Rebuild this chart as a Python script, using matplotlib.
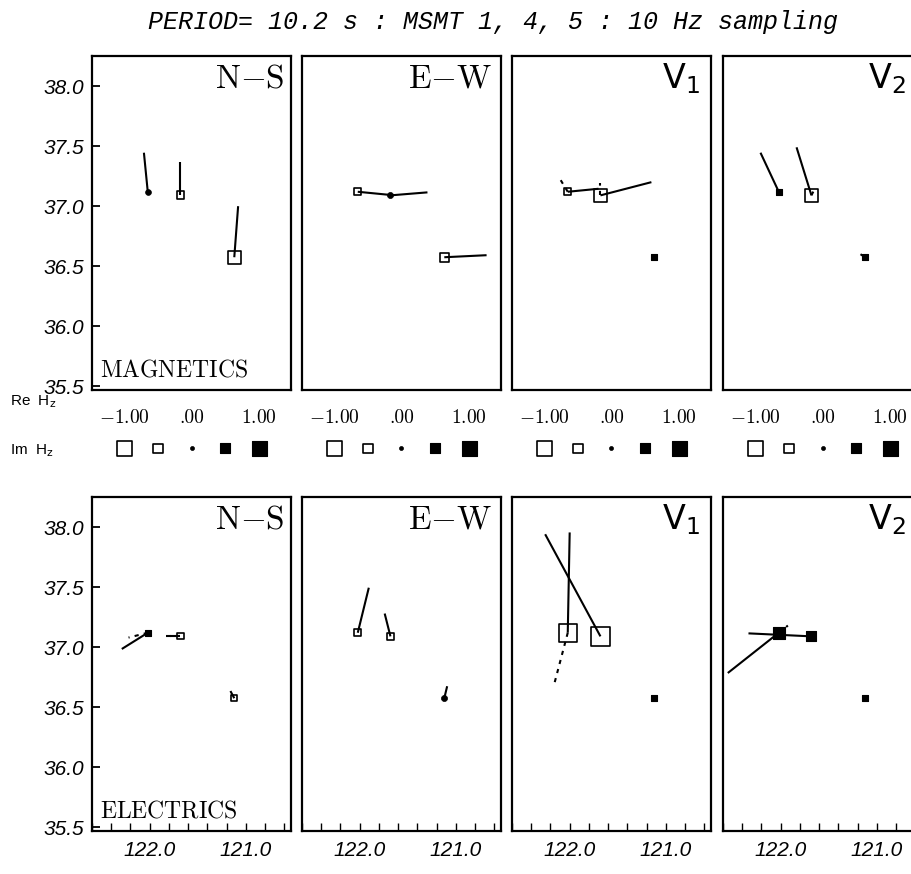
import numpy as np
import matplotlib.pyplot as plt
import matplotlib as mpl
from matplotlib.ticker import MultipleLocator, FixedLocator

W, H = 912, 874
fig = plt.figure(figsize=(W / 100, H / 100), dpi=100)

# station positions (deg W, deg N)
sta_lon = [122.02, 121.68, 121.12]
sta_lat = [37.12, 37.09, 36.575]

components = ['N-S', 'E-W', 'V1', 'V2']
rows = ['MAGNETICS', 'ELECTRICS']

# Hz value per station (size of square, open < 0 < filled)
mag_hz = [[0.10, -0.35, -0.85], [-0.30, 0.12, -0.45], [-0.30, -0.80, 0.18], [0.20, -0.85, 0.18]]
ele_hz = [[0.25, -0.20, -0.15], [-0.25, -0.25, 0.12], [-1.30, -1.30, 0.16], [0.65, 0.50, 0.18]]

# real part arrows, east / north components in degrees
mag_re_e = [[-0.04, 0.0, 0.04], [0.32, 0.385, 0.44], [0.32, 0.53, 0.0], [-0.19, -0.155, -0.05]]
mag_re_n = [[0.325, 0.275, 0.425], [-0.025, 0.025, 0.017], [0.025, 0.11, 0.0], [0.325, 0.40, 0.025]]
ele_re_e = [[-0.27, -0.155, -0.04], [0.115, -0.06, 0.03], [0.02, -0.575, 0.0], [-0.53, -0.655, 0.0]]
ele_re_n = [[-0.135, 0.0, 0.06], [0.375, 0.19, 0.10], [0.835, 0.85, 0.0], [-0.335, 0.025, 0.0]]

# imaginary part arrows (dotted)
mag_im_e = [[0.0, 0.0, 0.0], [0.0, 0.0, 0.0], [-0.095, 0.0, 0.0], [0.06, 0.04, 0.0]]
mag_im_n = [[0.0, 0.0, 0.0], [0.0, 0.0, 0.0], [0.125, 0.10, 0.0], [-0.06, 0.065, 0.0]]
ele_im_e = [[-0.20, -0.105, 0.0], [0.0, 0.0, 0.0], [-0.145, 0.0, 0.0], [0.095, 0.0, 0.0]]
ele_im_n = [[-0.04, 0.0, 0.0], [0.0, 0.0, 0.0], [-0.44, 0.0, 0.0], [0.06, 0.0, 0.0]]

legend_vals = [-1.0, -0.5, 0.0, 0.5, 1.0]
legend_labels = ['-1.00', '.00', '1.00']
yticks = [35.5, 36.0, 36.5, 37.0, 37.5, 38.0]
xticks = [122.0, 121.0]


def sq_size(v):
    side_px = 4 + 11 * abs(v)
    return (side_px * 0.72) ** 2


def draw_marker(ax, x, y, v):
    if v < 0:
        ax.scatter(x, y, s=sq_size(v), marker='s', facecolor='none',
                   edgecolor='black', linewidth=1.2, zorder=2)
    elif v < 0.15:
        ax.scatter(x, y, s=sq_size(v) * 1.3, marker='o', facecolor='black',
                   edgecolor='black', linewidth=0.5, zorder=2)
    else:
        ax.scatter(x, y, s=sq_size(v), marker='s', facecolor='black',
                   edgecolor='black', linewidth=0.8, zorder=2)


def draw_stations(ax, hz, re_e, re_n, im_e, im_n):
    for k in range(3):
        lon, lat = sta_lon[k], sta_lat[k]
        draw_marker(ax, lon, lat, hz[k])
        if re_e[k] != 0 or re_n[k] != 0:
            ax.plot([lon, lon - re_e[k]], [lat, lat + re_n[k]], color='black',
                    lw=1.5, zorder=3, solid_capstyle='butt')
        if im_e[k] != 0 or im_n[k] != 0:
            ax.plot([lon, lon - im_e[k]], [lat, lat + im_n[k]], color='black',
                    lw=1.5, ls=(0, (2, 2.5)), zorder=3)


lefts = [92, 302, 512, 723]
pw = 199
row_top = [56, 497]
ph = 334

comp_text = [r'$\mathrm{N}{-}\mathrm{S}$', r'$\mathrm{E}{-}\mathrm{W}$',
             r'$\mathrm{V}_{1}$', r'$\mathrm{V}_{2}$']
comp_math = ['cm', 'cm', 'dejavusans', 'dejavusans']
comp_right = [193, 190, 188, 183]

tick_font = dict(family='Liberation Sans', style='italic', size=15)

for r in range(2):
    if r == 0:
        hz, re_e, re_n, im_e, im_n = mag_hz, mag_re_e, mag_re_n, mag_im_e, mag_im_n
    else:
        hz, re_e, re_n, im_e, im_n = ele_hz, ele_re_e, ele_re_n, ele_im_e, ele_im_n
    for c in range(4):
        ax = fig.add_axes([lefts[c] / W, 1 - (row_top[r] + ph) / H, pw / W, ph / H])
        ax.set_xlim(122.60, 120.53)
        ax.set_ylim(35.47, 38.25)
        for sp in ax.spines.values():
            sp.set_linewidth(1.6)
        draw_stations(ax, hz[c], re_e[c], re_n[c], im_e[c], im_n[c])

        ax.text(comp_right[c] / pw, 0.985, comp_text[c], transform=ax.transAxes,
                ha='right', va='top', fontsize=24, math_fontfamily=comp_math[c])
        if c == 0:
            ax.text(0.04, 0.025, r'$\mathrm{' + rows[r] + '}$', transform=ax.transAxes,
                    ha='left', va='bottom', fontsize=17, math_fontfamily='cm')
            ax.yaxis.set_major_locator(FixedLocator(yticks))
            ax.set_yticklabels(['%.1f' % t for t in yticks], fontdict=tick_font)
            ax.tick_params(axis='y', direction='in', length=6, width=1.3, pad=6)
        else:
            ax.set_yticks([])

        if r == 1:
            ax.xaxis.set_major_locator(FixedLocator(xticks))
            ax.xaxis.set_minor_locator(MultipleLocator(0.2))
            ax.set_xticklabels(['%.1f' % t for t in xticks], fontdict=tick_font)
            ax.tick_params(axis='x', which='both', direction='in', length=6, width=1.0, pad=7)
        else:
            ax.set_xticks([])

# scale key between the two rows
for c in range(4):
    lax = fig.add_axes([lefts[c] / W, 1 - 468 / H, pw / W, 68 / H])
    lax.set_xlim(-1.485, 1.485)
    lax.set_ylim(0, 1)
    lax.axis('off')
    for i, t in enumerate(legend_labels):
        if t.startswith('.'):
            lax.text(legend_vals[2 * i], 0.74, t, ha='center', va='center',
                     fontsize=14, family='cmr10')
        else:
            lax.text(legend_vals[2 * i], 0.74, r'$\mathrm{' + t.replace('-', '{-}') + '}$',
                     ha='center', va='center', fontsize=14, math_fontfamily='cm')
    for v in legend_vals:
        if v < 0:
            lax.scatter(v, 0.29, s=sq_size(v), marker='s', facecolor='none',
                        edgecolor='black', linewidth=1.2)
        elif v == 0:
            lax.scatter(v, 0.29, s=sq_size(v), marker='o', facecolor='black',
                        edgecolor='black', linewidth=0.5)
        else:
            lax.scatter(v, 0.29, s=sq_size(v), marker='s', facecolor='black',
                        edgecolor='black', linewidth=0.8)

fig.text(10 / W, 1 - 402 / H, r'Re  H$_\mathrm{z}$', fontsize=11, family='Liberation Sans',
         va='center', ha='left')
fig.text(10 / W, 1 - 451 / H, r'Im  H$_\mathrm{z}$', fontsize=11, family='Liberation Sans',
         va='center', ha='left')

fig.text(148 / W, 1 - 22 / H, 'PERIOD= 10.2 s : MSMT 1, 4, 5 : 10 Hz sampling',
         family='Liberation Mono', style='italic', fontsize=18, ha='left', va='center')

fig.savefig('out.png', dpi=100)
